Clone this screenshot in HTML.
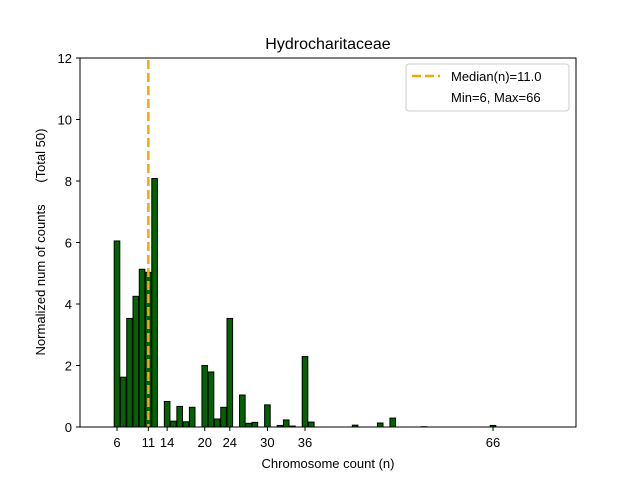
<!DOCTYPE html>
<html><head><meta charset="utf-8"><style>body{margin:0;background:#fff}svg text{font-family:"Liberation Sans","DejaVu Sans",sans-serif;fill:#000}</style></head>
<body>
<svg id="chart" width="640" height="480" viewBox="0 0 640 480" xmlns="http://www.w3.org/2000/svg">
<rect width="640" height="480" fill="#fff"/>
<text x="328" y="49" font-size="16" text-anchor="middle">Hydrocharitaceae</text>
<g id="bars"></g>
<line id="med" y1="60" y2="427" stroke="#F5A70F" stroke-width="2.5" stroke-dasharray="9,4"/>
<rect x="80" y="58" width="496" height="369" fill="none" stroke="#000" stroke-width="1"/>
<g id="axes"></g>
<text x="328" y="468" font-size="13" text-anchor="middle">Chromosome count (n)</text>
<text transform="translate(45,242) rotate(-90)" font-size="13" text-anchor="middle">Normalized num of counts&#160;&#160;&#160;&#160;&#160;&#160;(Total 50)</text>
<g>
<rect x="406" y="64" width="163" height="47" rx="3" fill="#fff" stroke="#ccc"/>
<line x1="412" y1="76" x2="440" y2="76" stroke="#F5A70F" stroke-width="2.5" stroke-dasharray="9,4"/>
<text x="451" y="81" font-size="13">Median(n)=11.0</text>
<text x="451" y="102" font-size="13">Min=6, Max=66</text>
</g>
</svg>
<script>
const counts = [6,7,8,9,10,11,12,14,15,16,17,18,20,21,22,23,24,26,27,28,30,32,33,34,36,37,44,48,50,55,66];
const values = [6.05,1.62,3.53,4.25,5.13,5.03,8.08,0.83,0.19,0.67,0.17,0.64,2.0,1.79,0.26,0.64,3.53,1.04,0.12,0.15,0.72,0.05,0.23,0.03,2.29,0.16,0.06,0.13,0.29,0.01,0.05];
const xTicks = [6,11,14,20,24,30,36,66];
const yTicks = [0,2,4,6,8,10,12];
const median = 11;
const NS="http://www.w3.org/2000/svg";
function xs(v){return 117+(v-6)*6.267;}
function ys(v){return 427-v*30.75;}
const bars=document.getElementById('bars');
counts.forEach((c,i)=>{
  const r=document.createElementNS(NS,'rect');
  
  
  const w=5.6;
  r.setAttribute('x',xs(c)-w/2);r.setAttribute('width',w);
  r.setAttribute('y',ys(values[i]));r.setAttribute('height',427-ys(values[i]));
  r.setAttribute('fill','#006400');r.setAttribute('stroke','#000');r.setAttribute('stroke-width','1');
  bars.appendChild(r);
});
const med=document.getElementById('med');
med.setAttribute('x1',xs(median));med.setAttribute('x2',xs(median));
const ax=document.getElementById('axes');
xTicks.forEach(t=>{
  const l=document.createElementNS(NS,'line');
  
  
  l.setAttribute('x1',xs(t));l.setAttribute('x2',xs(t));l.setAttribute('y1',427);l.setAttribute('y2',431);l.setAttribute('stroke','#000');
  ax.appendChild(l);
  const tx=document.createElementNS(NS,'text');
  
  
  tx.setAttribute('x',xs(t));tx.setAttribute('y',447);tx.setAttribute('font-size','13');tx.setAttribute('text-anchor','middle');
  tx.textContent=t;ax.appendChild(tx);
});
yTicks.forEach(t=>{
  const l=document.createElementNS(NS,'line');
  
  
  l.setAttribute('x1',76);l.setAttribute('x2',80);l.setAttribute('y1',ys(t));l.setAttribute('y2',ys(t));l.setAttribute('stroke','#000');
  ax.appendChild(l);
  const tx=document.createElementNS(NS,'text');
  
  
  tx.setAttribute('x',72);tx.setAttribute('y',ys(t)+5);tx.setAttribute('font-size','13');tx.setAttribute('text-anchor','end');
  tx.textContent=t;ax.appendChild(tx);
});
</script>
</body></html>
